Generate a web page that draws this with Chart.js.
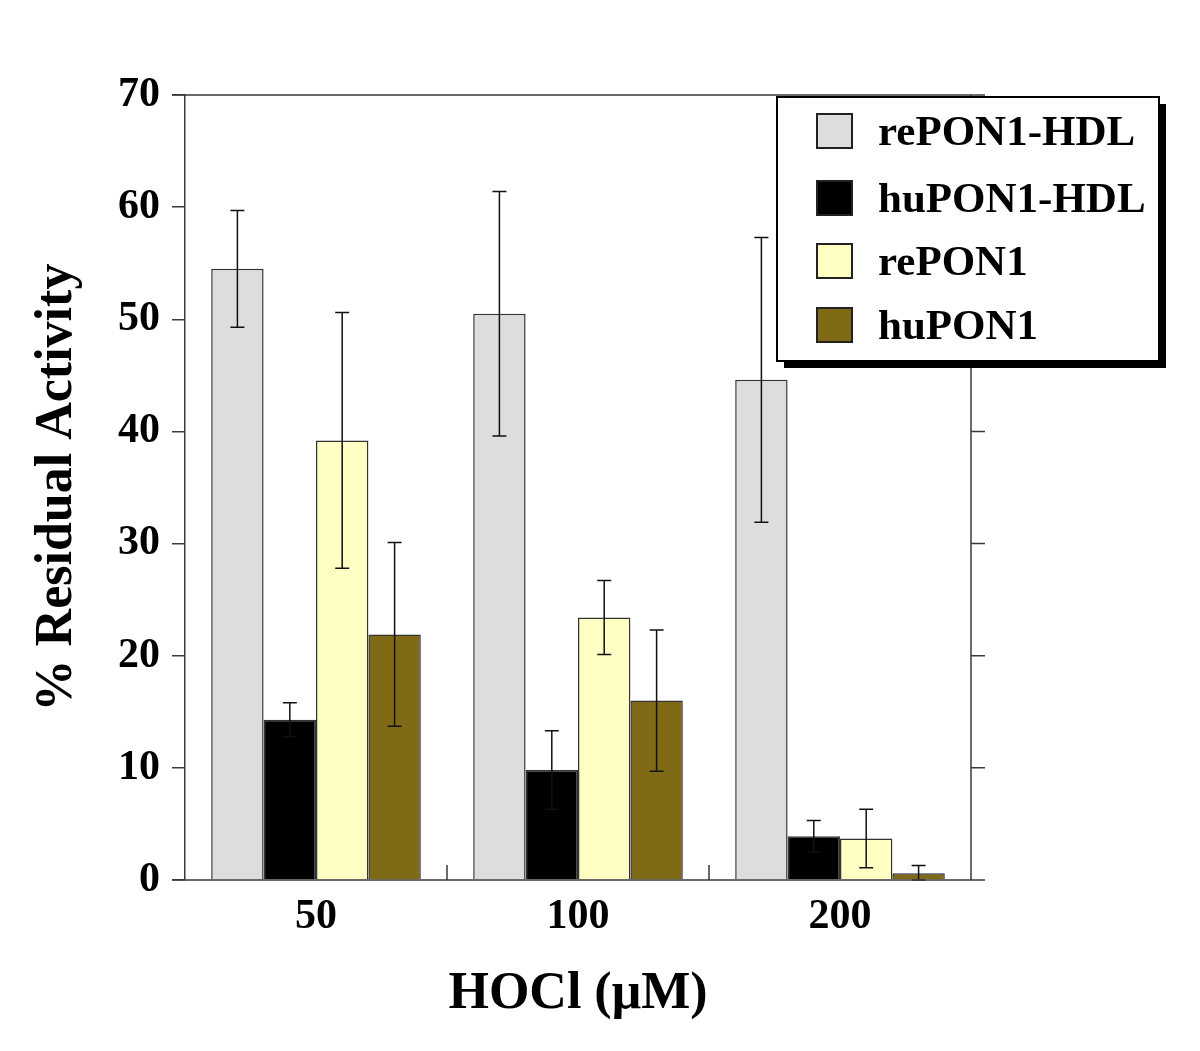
<!DOCTYPE html>
<html><head><meta charset="utf-8">
<script src="https://cdn.jsdelivr.net/npm/chart.js@4/dist/chart.umd.min.js"></script>
<style>html,body{margin:0;padding:0;background:#fff}canvas{display:block}</style>
</head><body>
<canvas id="c" width="1200" height="1051"></canvas>
<script>
const categories = ['50', '100', '200'];
const seriesNames = ['rePON1-HDL', 'huPON1-HDL', 'rePON1', 'huPON1'];
const rePON1_HDL = [54.5, 50.5, 44.6];
const huPON1_HDL = [14.3, 9.8, 3.9];
const rePON1 = [39.2, 23.4, 3.7];
const huPON1 = [21.9, 16.0, 0.6];
const rePON1_HDL_err = [5.2, 10.9, 12.7];
const huPON1_HDL_err = [1.5, 3.5, 1.4];
const rePON1_err = [11.4, 3.3, 2.6];
const huPON1_err = [8.2, 6.3, 0.7];
const yTicks = [0, 10, 20, 30, 40, 50, 60, 70];

const seriesValues = [rePON1_HDL, huPON1_HDL, rePON1, huPON1];
const seriesErrors = [rePON1_HDL_err, huPON1_HDL_err, rePON1_err, huPON1_err];
const seriesColors = ['#DCDDDF', '#000000', '#FFFFC4', '#806A16'];

const FONT = '"Liberation Serif", "Times New Roman", serif';
const AX = '#3a3a3a';

const framePlugin = {
  id: 'frame',
  afterDatasetsDraw(chart) {
    const {ctx, chartArea: a, scales: {x, y}} = chart;
    ctx.save();
    ctx.strokeStyle = '#111';
    ctx.lineWidth = 1.5;
    chart.data.datasets.forEach((ds, i) => {
      const meta = chart.getDatasetMeta(i);
      meta.data.forEach((bar, j) => {
        const v = ds.data[j], e = seriesErrors[i][j];
        const yt = y.getPixelForValue(v + e), yb = y.getPixelForValue(Math.max(0, v - e));
        const cx = bar.x, cap = 7;
        ctx.beginPath();
        ctx.moveTo(cx, yt); ctx.lineTo(cx, yb);
        ctx.moveTo(cx - cap, yt); ctx.lineTo(cx + cap, yt);
        ctx.moveTo(cx - cap, yb); ctx.lineTo(cx + cap, yb);
        ctx.stroke();
      });
    });
    ctx.strokeStyle = AX;
    ctx.lineWidth = 1.5;
    ctx.beginPath();
    ctx.moveTo(a.left - 13, a.top); ctx.lineTo(a.right, a.top);
    ctx.moveTo(a.right, a.top); ctx.lineTo(a.right, a.bottom);
    ctx.moveTo(a.left - 13, a.bottom); ctx.lineTo(a.right + 14, a.bottom);
    y.ticks.forEach(t => {
      const py = y.getPixelForValue(t.value);
      ctx.moveTo(a.right, py); ctx.lineTo(a.right + 14, py);
    });
    for (let k = 1; k < categories.length; k++) {
      const px = (x.getPixelForValue(k - 1) + x.getPixelForValue(k)) / 2;
      ctx.moveTo(px, a.bottom); ctx.lineTo(px, a.bottom - 15);
    }
    ctx.stroke();
    ctx.restore();
  },
  afterDraw(chart) {
    const {ctx} = chart;
    ctx.save();
    const L = 777, T = 97, W = 382, H = 264;
    ctx.fillStyle = '#000';
    ctx.fillRect(L + 7, T + 7, W, H);
    ctx.fillStyle = '#fff';
    ctx.fillRect(L, T, W, H);
    ctx.strokeStyle = '#000';
    ctx.lineWidth = 2;
    ctx.strokeRect(L, T, W, H);
    const rowsY = [131, 198, 261, 325];
    chart.data.datasets.forEach((ds, i) => {
      const cy = rowsY[i];
      ctx.fillStyle = ds.backgroundColor;
      ctx.fillRect(817, cy - 17, 35, 34);
      ctx.strokeStyle = '#222';
      ctx.lineWidth = 2;
      ctx.strokeRect(817, cy - 17, 35, 34);
      ctx.fillStyle = '#000';
      ctx.font = 'bold 43px ' + FONT;
      ctx.textBaseline = 'alphabetic';
      ctx.textAlign = 'left';
      ctx.fillText(ds.label, 878, cy + 14);
    });
    ctx.restore();
  }
};

new Chart(document.getElementById('c'), {
  type: 'bar',
  data: {
    labels: categories,
    datasets: seriesNames.map((n, i) => ({
      label: n,
      data: seriesValues[i],
      backgroundColor: seriesColors[i],
      borderColor: '#333',
      borderWidth: 1.5,
      categoryPercentage: 0.8,
      barPercentage: 1.0
    }))
  },
  options: {
    responsive: false,
    animation: false,
    devicePixelRatio: 1,
    layout: {padding: {left: 0, right: 229, top: 95, bottom: 0}},
    plugins: {legend: {display: false}, tooltip: {enabled: false}},
    scales: {
      x: {
        grid: {display: false, drawTicks: false},
        border: {display: false},
        ticks: {color: '#000', font: {family: FONT, size: 42, weight: 'bold'}, padding: 12},
        title: {display: true, text: 'HOCl (\u03BCM)', color: '#000',
                font: {family: FONT, size: 52, weight: 'bold'}, padding: {top: 0, bottom: 25}},
        afterFit(s) { s.height = 171; }
      },
      y: {
        min: 0, max: 70,
        afterBuildTicks(s) { s.ticks = yTicks.map(v => ({value: v})); },
        grid: {display: true, drawOnChartArea: false, drawTicks: true, tickLength: 13, color: AX, lineWidth: 1.5},
        border: {display: true, color: AX, width: 1.5},
        ticks: {color: '#000', font: {family: FONT, size: 42, weight: 'bold'}, padding: 12},
        title: {display: true, text: '% Residual Activity', color: '#000',
                font: {family: FONT, size: 52, weight: 'bold'}, padding: {top: 26, bottom: 0}},
        afterFit(s) { s.width = 185; }
      }
    }
  },
  plugins: [framePlugin]
});
</script>
</body></html>
